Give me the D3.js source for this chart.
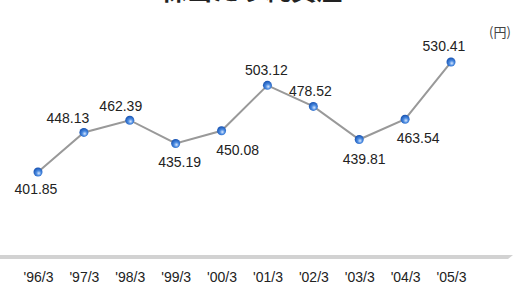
<!DOCTYPE html>
<html>
<head>
<meta charset="utf-8">
<script src="https://cdn.jsdelivr.net/npm/d3@7"></script>
<style>
  body { margin: 0; background: #fff; }
  svg { display: block; font-family: "Liberation Sans", Arial, sans-serif; }
</style>
</head>
<body>
<div id="chart-area"></div>
<script>
// data
const years = ["'96/3", "'97/3", "'98/3", "'99/3", "'00/3", "'01/3", "'02/3", "'03/3", "'04/3", "'05/3"]
const bookValue = [401.85, 448.13, 462.39, 435.19, 450.08, 503.12, 478.52, 439.81, 463.54, 530.41]
const title = "1株当たり純資産"
const unitLabel = "(円)"

// where each value label sits relative to its point: [dx, dy]
const labelOffset = [[-2, 22], [-16, -9], [-9, -9], [4, 24], [16, 24], [-1, -10], [-3, -10], [5, 24], [13, 24], [-7, -11]]

const WIDTH = 517
const HEIGHT = 284

const svg = d3.select("#chart-area").append("svg")
  .attr("width", WIDTH)
  .attr("height", HEIGHT)

// sphere gradient for markers
const grad = svg.append("defs").append("radialGradient")
  .attr("id", "ball")
  .attr("cx", "55%").attr("cy", "60%").attr("r", "60%")
  .attr("fx", "60%").attr("fy", "65%")
grad.append("stop").attr("offset", "0%").attr("stop-color", "#d8e8ff")
grad.append("stop").attr("offset", "45%").attr("stop-color", "#4a8ae0")
grad.append("stop").attr("offset", "100%").attr("stop-color", "#1550b0")

// title, cut off at the top edge like the original
svg.append("text")
  .attr("x", 244)
  .attr("y", 0)
  .attr("text-anchor", "middle")
  .attr("font-family", "'Noto Sans CJK JP', sans-serif")
  .attr("font-weight", "bold")
  .attr("font-size", "26px")
  .attr("fill", "#222")
  .text(title)

svg.append("text")
  .attr("x", 500)
  .attr("y", 37)
  .attr("text-anchor", "middle")
  .attr("font-family", "'Noto Sans CJK JP', sans-serif")
  .attr("font-size", "13px")
  .attr("fill", "#444")
  .text(unitLabel)

const x = d3.scalePoint()
  .domain(years)
  .range([38, 451])

const y = d3.scaleLinear()
  .domain([400, 540])
  .range([173.6, 53.8])

// floor band
svg.append("path")
  .attr("d", "M0,255 L513,255 L508,259 L0,259 Z")
  .attr("fill", "#d2d2d2")

// category axis
const xAxis = svg.append("g")
  .attr("transform", "translate(0, 271)")
  .call(d3.axisBottom(x).tickSize(0).tickPadding(0))
xAxis.select(".domain").remove()
xAxis.selectAll("text")
  .attr("font-size", "14px")
  .attr("font-family", "'Liberation Sans', Arial, sans-serif")
  .attr("fill", "#222")
  .attr("dy", "0.8em")

// line
const line = d3.line()
  .x((d, i) => x(years[i]))
  .y(d => y(d))

svg.append("path")
  .datum(bookValue)
  .attr("d", line)
  .attr("fill", "none")
  .attr("stroke", "#999")
  .attr("stroke-width", 2)

// markers
svg.selectAll("circle.pt")
  .data(bookValue)
  .enter().append("circle")
  .attr("class", "pt")
  .attr("cx", (d, i) => x(years[i]))
  .attr("cy", d => y(d))
  .attr("r", 4.5)
  .attr("fill", "url(#ball)")

// value labels
svg.selectAll("text.val")
  .data(bookValue)
  .enter().append("text")
  .attr("class", "val")
  .attr("x", (d, i) => x(years[i]) + labelOffset[i][0])
  .attr("y", (d, i) => y(d) + labelOffset[i][1])
  .attr("text-anchor", "middle")
  .attr("font-size", "14px")
  .attr("fill", "#222")
  .text(d => d.toFixed(2))
</script>
</body>
</html>
